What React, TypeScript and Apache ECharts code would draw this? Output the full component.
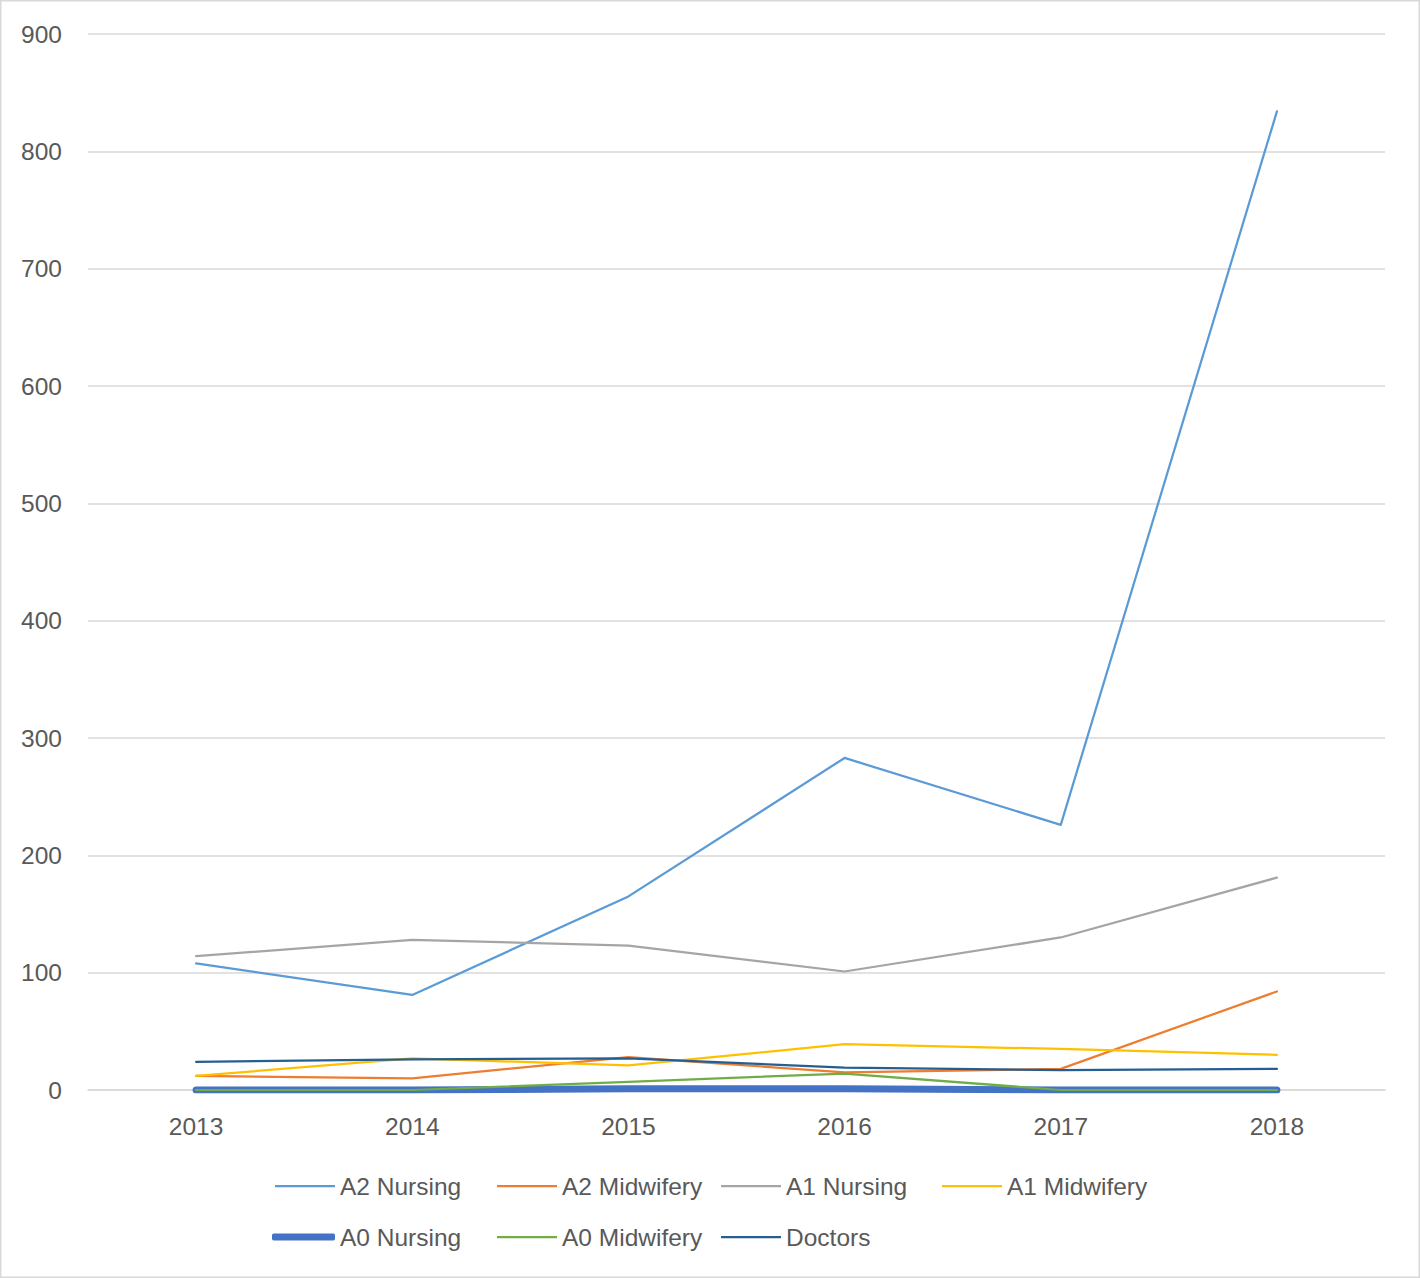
import React, { useEffect, useRef } from "react";
import * as echarts from "echarts";

const years = ["2013", "2014", "2015", "2016", "2017", "2018"];
const a2Nursing = [108, 81, 165, 283, 226, 834];
const a2Midwifery = [12, 10, 28, 15, 18, 84];
const a1Nursing = [114, 128, 123, 101, 130, 181];
const a1Midwifery = [12, 27, 21, 39, 35, 30];
const a0Nursing = [0, 0, 1, 1, 0, 0];
const a0Midwifery = [0, 0, 7, 14, 0, 0];
const doctors = [24, 26, 27, 19, 17, 18];

const seriesDefs = [
  { name: "A2 Nursing", data: a2Nursing, color: "#5B9BD5", width: 2.25 },
  { name: "A2 Midwifery", data: a2Midwifery, color: "#ED7D31", width: 2.25 },
  { name: "A1 Nursing", data: a1Nursing, color: "#A5A5A5", width: 2.25 },
  { name: "A1 Midwifery", data: a1Midwifery, color: "#FFC000", width: 2.25 },
  { name: "A0 Nursing", data: a0Nursing, color: "#4472C4", width: 7 },
  { name: "A0 Midwifery", data: a0Midwifery, color: "#70AD47", width: 2.25 },
  { name: "Doctors", data: doctors, color: "#255E91", width: 2.25 },
];

const legendPos = [
  { left: 275, top: 1186 },
  { left: 497, top: 1186 },
  { left: 721, top: 1186 },
  { left: 942, top: 1186 },
  { left: 272, top: 1237 },
  { left: 497, top: 1237 },
  { left: 721, top: 1237 },
];

const FONT = "Liberation Sans";
const TXT = "#595959";
const FS = 24.5;

export default function App() {
  const ref = useRef<HTMLDivElement>(null);
  useEffect(() => {
    document.body.style.margin = "0";
    const chart = echarts.init(ref.current!, null, { renderer: "svg" });
    chart.setOption({
      animation: false,
      backgroundColor: "#ffffff",
      grid: { left: 88, right: 35, top: 34, bottom: 188, containLabel: false },
      graphic: [
        {
          type: "rect",
          shape: { x: 0.75, y: 0.75, width: 1418.5, height: 1276.5 },
          style: { fill: "none", stroke: "#D9D9D9", lineWidth: 1.5 },
          silent: true,
        },
      ],
      xAxis: {
        type: "category",
        data: years,
        boundaryGap: true,
        axisLine: { lineStyle: { color: "#D9D9D9", width: 1.5 } },
        axisTick: { show: false },
        axisLabel: { color: TXT, fontFamily: FONT, fontSize: FS, margin: 24 },
      },
      yAxis: {
        type: "value",
        min: 0,
        max: 900,
        interval: 100,
        axisLine: { show: false },
        axisTick: { show: false },
        splitLine: { lineStyle: { color: "#D9D9D9", width: 1.5 } },
        axisLabel: { color: TXT, fontFamily: FONT, fontSize: FS, margin: 26 },
      },
      legend: seriesDefs.map((s, i) => {
        const thick = s.width > 3;
        return {
          data: [s.name],
          left: legendPos[i].left,
          top: legendPos[i].top - 14,
          height: 28,
          orient: "horizontal",
          icon: thick ? "roundRect" : "rect",
          itemWidth: thick ? 63 : 60,
          itemHeight: s.width,
          itemGap: 0,
          padding: 0,
          selectedMode: false,
          itemStyle: { color: s.color, borderWidth: 0 },
          textStyle: { color: TXT, fontFamily: FONT, fontSize: FS, lineHeight: 28 },
        };
      }),
      series: seriesDefs.map((s) => ({
        name: s.name,
        type: "line",
        data: s.data,
        symbol: "none",
        showSymbol: false,
        color: s.color,
        lineStyle: { color: s.color, width: s.width, cap: "round", join: "round" },
        emphasis: { disabled: true },
      })),
    });
    return () => chart.dispose();
  }, []);
  return <div ref={ref} style={{ width: 1420, height: 1278 }} />;
}
